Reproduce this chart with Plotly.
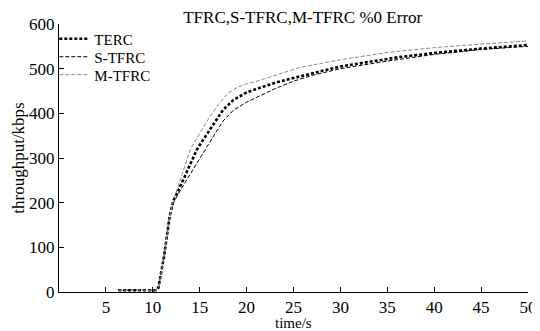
import plotly.graph_objects as go

# time (s) and throughput (kbps)
terc_t = [6.3, 10.3, 10.6, 11.2, 11.8, 12.2, 13, 14, 14.7, 15.5, 16.5, 17.5, 18.6, 20, 21.4, 23, 25, 28, 30, 33, 36.3, 40, 45, 50]
terc_v = [4, 4, 10, 80, 170, 205, 240, 285, 319, 345, 378, 408, 430, 447, 457, 468, 479, 495, 505, 515, 526, 535, 545, 553]

stfrc_t = [6.3, 10.3, 10.6, 11.2, 11.8, 12.2, 13, 14, 15.6, 16.5, 17.5, 18.6, 20, 21.4, 23, 25, 27, 30, 35, 40, 45, 50]
stfrc_v = [4, 4, 10, 80, 170, 200, 230, 265, 319, 350, 383, 407, 425, 439, 455, 472, 485, 500, 517, 532, 543, 550]

mtfrc_t = [6.3, 10.3, 10.6, 11.2, 11.8, 12.2, 13, 14, 15, 16, 17, 18, 19, 20, 21.4, 23, 25.7, 28, 30, 35.3, 40, 45, 50]
mtfrc_v = [4, 4, 10, 80, 170, 205, 255, 319, 355, 390, 420, 445, 458, 466, 474, 485, 503, 512, 520, 537, 547, 555, 562]

x_ticks = [5, 10, 15, 20, 25, 30, 35, 40, 45, 50]
y_ticks = [0, 100, 200, 300, 400, 500, 600]

font = "'Times New Roman', 'Liberation Serif', serif"

fig = go.Figure()
fig.add_trace(go.Scatter(x=terc_t, y=terc_v, mode="lines", name="TERC", legend="legend",
                         line=dict(color="black", width=2.6, dash="3px,2px")))
fig.add_trace(go.Scatter(x=stfrc_t, y=stfrc_v, mode="lines", name="S-TFRC", legend="legend2",
                         line=dict(color="black", width=1, dash="4px,2px")))
fig.add_trace(go.Scatter(x=mtfrc_t, y=mtfrc_v, mode="lines", name="M-TFRC", legend="legend3",
                         line=dict(color="#8a8a8a", width=1, dash="4px,2px")))

leg = dict(x=-0.01, xanchor="left", yanchor="middle", bgcolor="rgba(0,0,0,0)",
           font=dict(family=font, size=15), itemwidth=30)

fig.update_layout(
    width=532, height=323,
    margin=dict(l=51, r=12, t=16, b=39, autoexpand=False),
    paper_bgcolor="white", plot_bgcolor="white",
    font=dict(family=font, size=17, color="black"),
    title=dict(text="TFRC,S-TFRC,M-TFRC %0 Error", x=0.554, xanchor="center",
               y=0.99, yanchor="top", font=dict(family=font, size=17)),
    showlegend=True,
    legend=dict(leg, y=0.944),
    legend2=dict(leg, y=0.877),
    legend3=dict(leg, y=0.810),
    xaxis=dict(range=[0, 50], tickvals=x_ticks, ticks="inside", ticklen=5,
               showline=True, linecolor="black", linewidth=1, showgrid=False,
               zeroline=False, tickcolor="black", automargin=False,
               tickfont=dict(family=font, size=17)),
    yaxis=dict(range=[0, 600], tickvals=y_ticks, ticks="inside", ticklen=5,
               showline=True, linecolor="black", linewidth=1, showgrid=False,
               zeroline=False, tickcolor="black", automargin=False,
               tickfont=dict(family=font, size=17),
               title=dict(text="throughput/kbps", standoff=0, font=dict(family=font, size=17))),
    annotations=[dict(text="time/s", xref="paper", yref="paper", x=0.5, y=0,
                      xanchor="center", yanchor="top", yshift=-21, showarrow=False,
                      font=dict(family=font, size=15))],
)

fig.write_html("out.html")
